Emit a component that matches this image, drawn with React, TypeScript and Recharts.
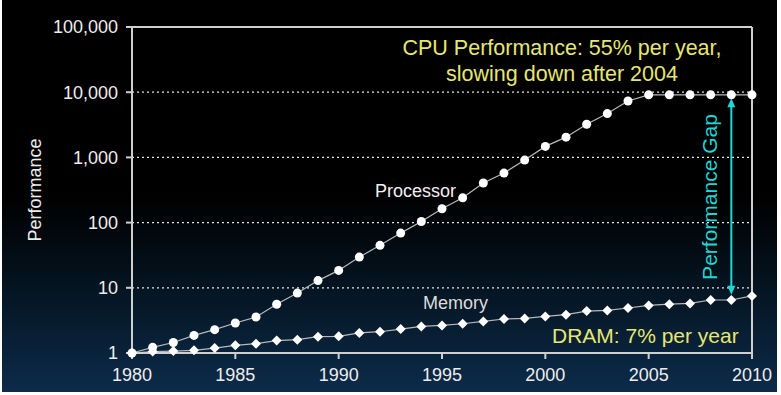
import React from 'react';
import { LineChart, Line, XAxis, YAxis, CartesianGrid, ReferenceLine } from 'recharts';

const years = [1980, 1981, 1982, 1983, 1984, 1985, 1986, 1987, 1988, 1989, 1990, 1991, 1992, 1993, 1994, 1995, 1996, 1997, 1998, 1999, 2000, 2001, 2002, 2003, 2004, 2005, 2006, 2007, 2008, 2009, 2010];
const processor = [1, 1.22, 1.45, 1.86, 2.28, 2.88, 3.56, 5.6, 8.3, 12.9, 18.5, 29.6, 44.8, 69, 104, 163, 240, 405, 575, 910, 1475, 2045, 3230, 4700, 7330, 9100, 9100, 9100, 9100, 9100, 9100];
const memory = [1, 1.05, 1.07, 1.1, 1.19, 1.31, 1.39, 1.55, 1.6, 1.78, 1.8, 2.03, 2.12, 2.33, 2.56, 2.65, 2.81, 3.05, 3.32, 3.39, 3.64, 3.87, 4.4, 4.5, 4.9, 5.37, 5.6, 5.76, 6.5, 6.5, 7.5];
const xTicks = [1980, 1985, 1990, 1995, 2000, 2005, 2010];
const yTicks = [1, 10, 100, 1000, 10000, 100000];
const gapYear = 2009;
const gapTop = 8100;
const gapBottom = 7.8;

const data = years.map((year, i) => ({ year, processor: processor[i], memory: memory[i] }));

const FONT = '"Liberation Sans", Arial, Helvetica, sans-serif';
const AXIS = '#cfcfcf';
const YELLOW = '#e6e672';
const CYAN = '#1fd6d6';

const Diamond = (props: any) => {
  const { cx, cy, index } = props;
  if (cx == null || cy == null) return <g key={`d-${index}`} />;
  const w = 5;
  const h = 5;
  return (
    <polygon
      key={`d-${index}`}
      points={`${cx},${cy - h} ${cx + w},${cy} ${cx},${cy + h} ${cx - w},${cy}`}
      fill="#ffffff"
    />
  );
};

const GapArrow = (props: any) => {
  const { x1, y1, x2, y2 } = props;
  const x = x1;
  const top = Math.min(y1, y2);
  const bot = Math.max(y1, y2);
  const hl = 9;
  const hw = 4;
  return (
    <g>
      <line x1={x} y1={top + hl - 1} x2={x2} y2={bot - hl + 1} stroke={CYAN} strokeWidth={2} />
      <polygon points={`${x},${top} ${x - hw},${top + hl} ${x + hw},${top + hl}`} fill={CYAN} />
      <polygon points={`${x},${bot} ${x - hw},${bot - hl} ${x + hw},${bot - hl}`} fill={CYAN} />
    </g>
  );
};

export default function App() {
  return (
    <div style={{ position: 'absolute', left: 0, top: 0, width: 781, height: 395, background: '#ffffff', overflow: 'hidden' }}>
      <div
        style={{
          position: 'absolute',
          left: 2,
          top: 0,
          width: 775,
          height: 392,
          background: 'linear-gradient(180deg, #000000 0%, #000000 50%, #04131f 72%, #0c2b4a 100%)',
        }}
      />
      <div style={{ position: 'absolute', left: 0, top: 0 }}>
        <LineChart width={781} height={395} data={data} margin={{ top: 27, right: 29, bottom: 0, left: 0 }}>
          <CartesianGrid vertical={false} stroke="#e6e6e6" strokeDasharray="2 3" strokeWidth={1.2} />
          <XAxis
            dataKey="year"
            type="number"
            domain={[1980, 2010]}
            ticks={xTicks}
            interval={0}
            height={42}
            axisLine={{ stroke: AXIS, strokeWidth: 2 }}
            tickLine={{ stroke: AXIS, strokeWidth: 2 }}
            tickSize={6}
            tickMargin={9}
            tick={{ fill: '#ededed', fontSize: 18, fontFamily: FONT }}
          />
          <YAxis
            type="number"
            scale="log"
            domain={[1, 100000]}
            ticks={yTicks}
            interval={0}
            width={132}
            axisLine={{ stroke: AXIS, strokeWidth: 2 }}
            tickLine={{ stroke: AXIS, strokeWidth: 2 }}
            tickSize={6}
            tickMargin={8}
            tick={{ fill: '#ededed', fontSize: 18, fontFamily: FONT }}
            tickFormatter={(v: number) => v.toLocaleString('en-US')}
          />
          <ReferenceLine y={100000} stroke={AXIS} strokeWidth={2} />
          <ReferenceLine x={2010} stroke={AXIS} strokeWidth={2} />
          <ReferenceLine
            segment={[{ x: gapYear, y: gapTop }, { x: gapYear, y: gapBottom }]}
            shape={GapArrow}
          />
          <Line
            dataKey="memory"
            stroke="#b8b8b8"
            strokeWidth={1.2}
            dot={Diamond}
            activeDot={false}
            isAnimationActive={false}
          />
          <Line
            dataKey="processor"
            stroke="#b8b8b8"
            strokeWidth={1.2}
            dot={{ r: 4.5, fill: '#ffffff', stroke: 'none' }}
            activeDot={false}
            isAnimationActive={false}
          />
        </LineChart>
      </div>
      <svg
        width={781}
        height={395}
        style={{ position: 'absolute', left: 0, top: 0, pointerEvents: 'none' }}
        fontFamily={FONT}
      >
        <text transform="translate(41,190) rotate(-90)" textAnchor="middle" fontSize={18} fill="#ededed">
          Performance
        </text>
        <text x={375} y={197} fontSize={18} fill="#f0f0f0">Processor</text>
        <text x={423} y={309} fontSize={18} fill="#dcdcdc">Memory</text>
        <text x={562} y={55} textAnchor="middle" fontSize={21.5} fill={YELLOW}>
          CPU Performance: 55% per year,
        </text>
        <text x={562} y={81} textAnchor="middle" fontSize={21.5} fill={YELLOW}>
          slowing down after 2004
        </text>
        <text x={552} y={343} fontSize={21} fill={YELLOW}>DRAM: 7% per year</text>
        <text transform="translate(717,197) rotate(-90)" textAnchor="middle" fontSize={21} fill={CYAN}>
          Performance Gap
        </text>
      </svg>
    </div>
  );
}
